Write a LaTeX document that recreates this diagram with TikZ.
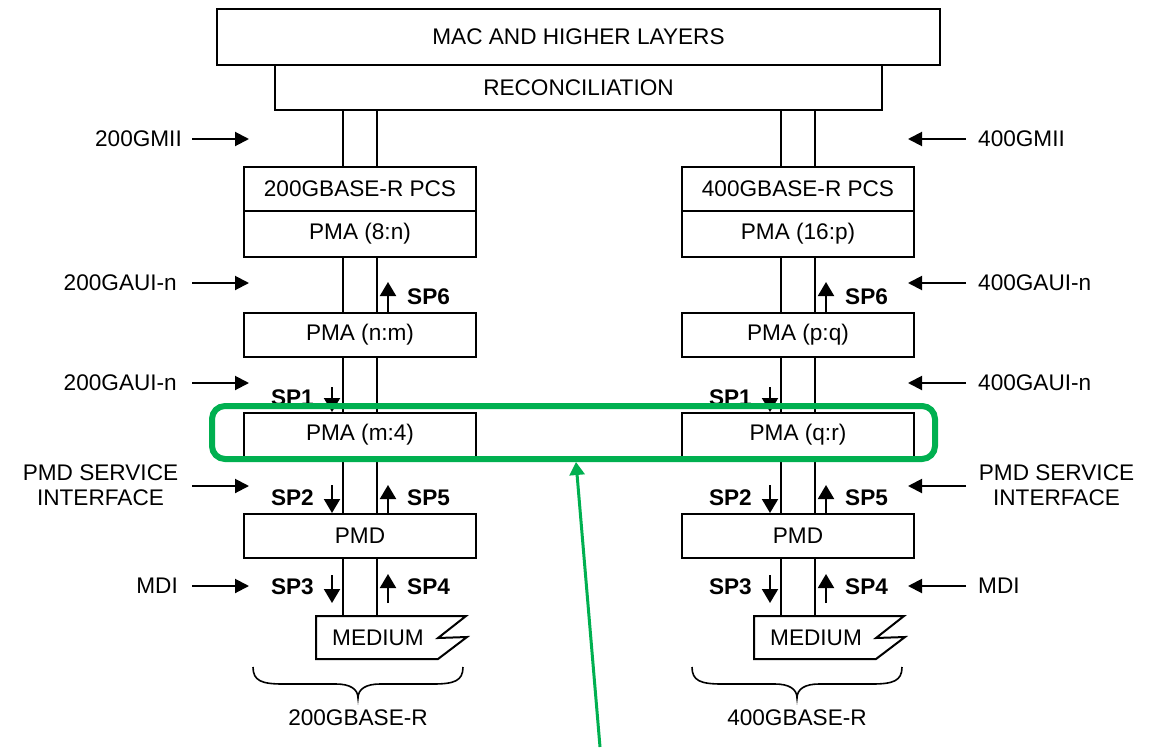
\documentclass[tikz,border=0pt]{standalone}
\usepackage{fontspec}
\setmainfont{Liberation Sans}
\usetikzlibrary{arrows.meta}
\definecolor{hlgreen}{RGB}{0,176,80}
\begin{document}
\begin{tikzpicture}[x=1pt,y=-1pt,
  every node/.style={font=\fontsize{22.6}{25}\selectfont, text=black},
  layer/.style={draw, line width=2pt, minimum width=232pt, minimum height=44pt, inner sep=0pt},
  lane/.style={line width=2pt},
  iflabel/.style={inner sep=0pt},
  iface/.style={line width=2pt, -{Triangle[length=14pt,width=14pt]}},
  sparrow/.style={line width=2pt, -{Triangle[length=14pt,width=16pt]}},
  splabel/.style={inner sep=0pt, font=\fontsize{22.6}{25}\selectfont\bfseries},
  bracepath/.style={line width=1.6pt},
  hlbox/.style={draw=hlgreen, line width=6pt, rounded corners=13pt, inner sep=0pt},
  hlarrow/.style={draw=hlgreen, line width=3pt, -{Triangle[length=13pt,width=15pt]}}
]
\useasboundingbox (0,0) rectangle (1158,747);

% common upper layers
\node[layer, minimum width=723pt, minimum height=56pt] (mac) at (578.5,37) {MAC AND HIGHER LAYERS};
\node[layer, minimum width=607pt, minimum height=45pt] (rec) at (578.5,87.5) {RECONCILIATION};

% 200G stack
\node[layer] (pcsL) at (360,189) {200GBASE-R PCS};
\node[layer, minimum height=46pt] (pmaaL) at (360,234) {PMA (8:n)};
\node[layer] (pmabL) at (360,335) {PMA (n:m)};
\node[layer] (pmacL) at (360,435) {PMA (m:4)};
\node[layer] (pmdL) at (360,536) {PMD};

% 400G stack
\node[layer] (pcsR) at (798,189) {400GBASE-R PCS};
\node[layer, minimum height=46pt] (pmaaR) at (798,234) {PMA (16:p)};
\node[layer] (pmabR) at (798,335) {PMA (p:q)};
\node[layer] (pmacR) at (798,435) {PMA (q:r)};
\node[layer] (pmdR) at (798,536) {PMD};

% media and their link lanes
\foreach \s/\cx in {L/360,R/798}{
  \draw[line width=2pt] ({\cx-44},616) -- ({\cx+106},616) -- ({\cx+78},638)
     -- ({\cx+107},637) -- ({\cx+78},659) -- ({\cx-44},659) -- cycle;
  \node (med\s) at ({\cx+18},637.5) {MEDIUM};
  \coordinate (medtop\s) at (\cx,616);
  \path ([xshift=-17pt]pcs\s.north) coordinate (la\s)
        ([xshift=17pt]pcs\s.north) coordinate (lb\s);
  \foreach \k in {a,b}{
    \draw[lane] (l\k\s |- rec.south) -- (l\k\s |- pcs\s.north);
    \draw[lane] (l\k\s |- pmaa\s.south) -- (l\k\s |- pmab\s.north);
    \draw[lane] (l\k\s |- pmab\s.south) -- (l\k\s |- pmac\s.north);
    \draw[lane] (l\k\s |- pmac\s.south) -- (l\k\s |- pmd\s.north);
    \draw[lane] (l\k\s |- pmd\s.south) -- (l\k\s |- medtop\s);
  }
  % sublayer service points
  \draw[sparrow] ([xshift=28pt]pmab\s.north) -- ([xshift=28pt,yshift=30pt]pmab\s.north);
  \draw[sparrow] ([xshift=-28pt,yshift=25pt]pmac\s.north) -- ([xshift=-28pt]pmac\s.north);
  \draw[sparrow] ([xshift=-28pt,yshift=28pt]pmd\s.north) -- ([xshift=-28pt]pmd\s.north);
  \draw[sparrow] ([xshift=28pt]pmd\s.north) -- ([xshift=28pt,yshift=28pt]pmd\s.north);
  \draw[sparrow] ([xshift=-28pt,yshift=-16pt]pmd\s.south) -- ([xshift=-28pt,yshift=-44pt]pmd\s.south);
  \draw[sparrow] ([xshift=28pt,yshift=-44pt]pmd\s.south) -- ([xshift=28pt,yshift=-15pt]pmd\s.south);
  \node[splabel, anchor=west] (spsix\s) at ({\cx+47},297) {SP6};
  \node[splabel, anchor=east] (spone\s) at ({\cx-46},398) {SP1};
  \node[splabel, anchor=east] (sptwo\s) at ({\cx-46},498) {SP2};
  \node[splabel, anchor=west] (spfive\s) at ({\cx+47},498) {SP5};
  \node[splabel, anchor=east] (spthree\s) at ({\cx-46},587) {SP3};
  \node[splabel, anchor=west] (spfour\s) at ({\cx+47},587) {SP4};
}

% interface markers, 200G side
\node[iflabel, anchor=east] (gmiiL) at (182,139) {200GMII};
\node[iflabel, anchor=east] (auiaL) at (177,283) {200GAUI-n};
\node[iflabel, anchor=east] (auibL) at (177,383) {200GAUI-n};
\node[iflabel, align=center] (psiL) at (100.5,485) {PMD SERVICE\\INTERFACE};
\node[iflabel, anchor=east] (mdiL) at (178,586) {MDI};
\foreach \n/\y in {gmiiL/139,auiaL/283,auibL/383,psiL/486,mdiL/586}{
  \coordinate (t\n) at (249,\y);
  \draw[iface] (192,\y) coordinate (s\n) -- (t\n);
}

% interface markers, 400G side
\node[iflabel, anchor=west] (gmiiR) at (978,139) {400GMII};
\node[iflabel, anchor=west] (auiaR) at (978,283) {400GAUI-n};
\node[iflabel, anchor=west] (auibR) at (978,383) {400GAUI-n};
\node[iflabel, align=center] (psiR) at (1056.5,485) {PMD SERVICE\\INTERFACE};
\node[iflabel, anchor=west] (mdiR) at (978,586) {MDI};
\foreach \n/\y in {gmiiR/139,auiaR/283,auibR/383,psiR/486,mdiR/586}{
  \coordinate (t\n) at (908,\y);
  \draw[iface] (966,\y) coordinate (s\n) -- (t\n);
}

% PHY type braces
\foreach \s/\cx/\txt in {L/358/200GBASE-R,R/797/400GBASE-R}{
  \draw[bracepath] ({\cx-105},667) .. controls ({\cx-105},681) and ({\cx-96},684) .. ({\cx-75},684)
    -- ({\cx-22},684) .. controls ({\cx-8},684) and (\cx,689) .. (\cx,698)
    .. controls (\cx,689) and ({\cx+8},684) .. ({\cx+22},684)
    -- ({\cx+75},684) .. controls ({\cx+96},684) and ({\cx+105},681) .. ({\cx+105},667);
  \node (phy\s) at (\cx,718) {\txt};
}

% highlighted PMA sublayer
\node[hlbox, minimum width=723pt, minimum height=53pt] (hl) at (573.5,432.5) {};
\coordinate (hltail) at (600,747);
\draw[hlarrow] (hltail) -- ([xshift=2.5pt]hl.south);
\end{tikzpicture}
\end{document}
